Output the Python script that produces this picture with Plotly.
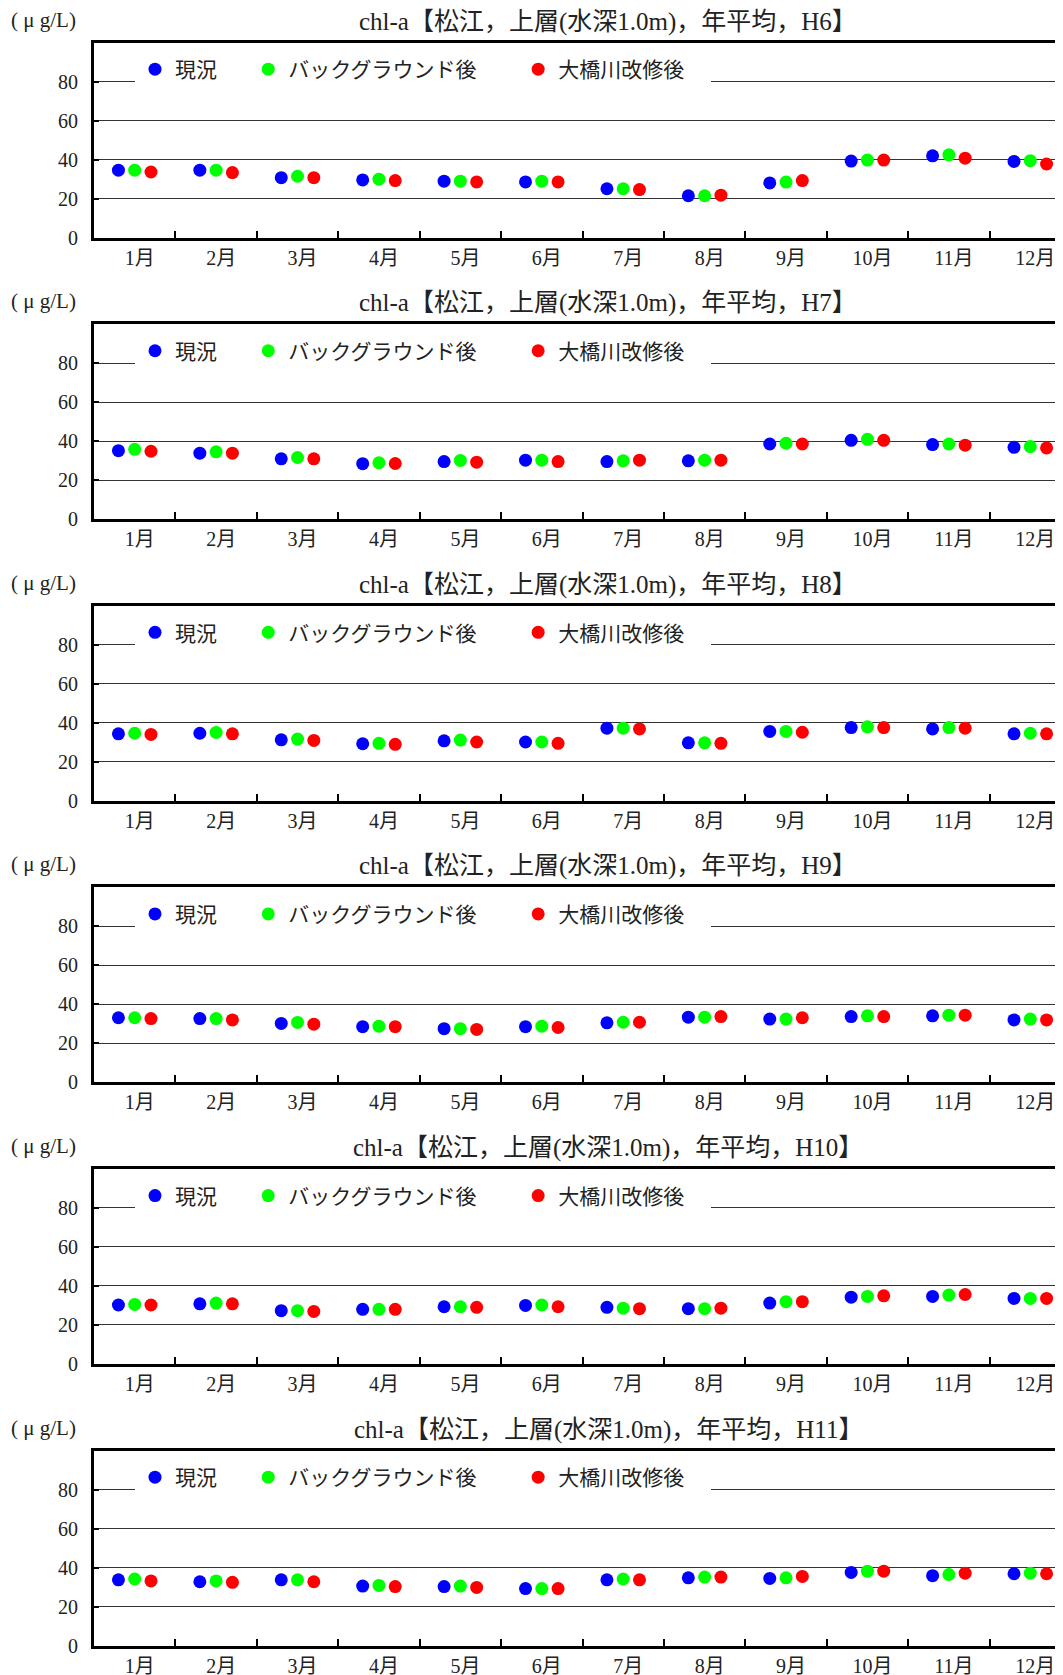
import plotly.graph_objects as go

# ---------------- data ----------------
months = ["1月", "2月", "3月", "4月", "5月", "6月",
          "7月", "8月", "9月", "10月", "11月", "12月"]
series_names = ["現況", "バックグラウンド後", "大橋川改修後"]
series_colors = ["#0000FF", "#00FF00", "#FF0000"]
years = ["H6", "H7", "H8", "H9", "H10", "H11"]
y_ticks = [0, 20, 40, 60, 80]

h6_genkyo = [34.5, 34.5, 30.7, 29.5, 28.9, 28.5, 25.0, 21.4, 28.0, 39.2, 41.9, 39.0]
h6_background = [34.5, 34.5, 31.4, 29.9, 28.9, 28.9, 25.0, 21.4, 28.4, 39.7, 42.4, 39.4]
h6_ohashi = [33.6, 33.3, 30.7, 29.2, 28.5, 28.5, 24.6, 21.7, 29.2, 39.7, 40.7, 37.7]

h7_genkyo = [35.1, 33.8, 30.9, 28.4, 29.5, 30.2, 29.5, 29.9, 38.5, 40.4, 38.2, 36.8]
h7_background = [35.8, 34.5, 31.6, 28.9, 30.1, 30.2, 29.9, 30.2, 38.9, 40.9, 38.5, 37.2]
h7_ohashi = [34.8, 33.8, 30.9, 28.5, 29.2, 29.5, 30.2, 30.2, 38.5, 40.4, 37.9, 36.5]

h8_genkyo = [34.3, 34.6, 31.2, 29.2, 30.7, 30.1, 37.2, 29.7, 35.5, 37.5, 36.8, 34.3]
h8_background = [34.6, 35.0, 31.6, 29.4, 31.1, 30.1, 37.2, 29.7, 35.5, 37.9, 37.5, 34.6]
h8_ohashi = [34.0, 34.3, 30.9, 28.9, 30.1, 29.4, 36.8, 29.4, 35.1, 37.5, 37.2, 34.3]

h9_genkyo = [33.1, 32.7, 30.2, 28.5, 27.5, 28.5, 30.5, 33.4, 32.4, 33.7, 34.1, 32.0]
h9_background = [33.1, 32.7, 30.7, 28.8, 27.5, 28.8, 30.8, 33.4, 32.4, 34.1, 34.4, 32.4]
h9_ohashi = [32.7, 32.0, 29.8, 28.5, 27.1, 28.1, 30.8, 33.7, 33.1, 33.7, 34.4, 32.0]

h10_genkyo = [30.2, 30.8, 27.3, 28.0, 29.3, 30.0, 29.0, 28.3, 31.2, 34.2, 34.6, 33.6]
h10_background = [30.5, 31.2, 27.3, 28.0, 29.3, 30.2, 28.6, 28.3, 31.9, 34.6, 35.3, 33.6]
h10_ohashi = [30.2, 30.8, 26.9, 28.0, 29.0, 29.3, 28.3, 28.6, 31.9, 34.9, 35.6, 33.6]

h11_genkyo = [33.7, 32.7, 33.7, 30.5, 30.2, 29.2, 33.7, 34.7, 34.4, 37.5, 35.8, 36.8]
h11_background = [34.1, 33.1, 33.7, 30.8, 30.5, 29.2, 34.1, 35.1, 34.7, 38.1, 36.4, 37.1]
h11_ohashi = [33.1, 32.4, 32.7, 30.2, 29.8, 29.2, 33.7, 35.1, 35.4, 38.1, 37.1, 36.8]

panels = [
    [h6_genkyo, h6_background, h6_ohashi],
    [h7_genkyo, h7_background, h7_ohashi],
    [h8_genkyo, h8_background, h8_ohashi],
    [h9_genkyo, h9_background, h9_ohashi],
    [h10_genkyo, h10_background, h10_ohashi],
    [h11_genkyo, h11_background, h11_ohashi],
]

# ---------------- layout geometry ----------------
OFF = 8                      # page body margin: page px = figure px + OFF
W, H = 1063, 1675
ML = 94 - OFF                # plot left edge on the page at 94 px
PW = W - ML
FONT = "Liberation Serif, Noto Sans CJK JP, serif"
ZERO0 = 237.5 - OFF          # zero line of the first panel (figure px)
STEP = 281.6
PH = 195
# spacing after each legend label (styling only)
legend_pad = ["\u3000\u00a0", "\u3000\u00a0\u00a0\u00a0", "\u00a0\u00a0\u00a0\u00a0"]


def px_x(page_x):
    return (page_x - OFF - ML) / PW


fig = go.Figure()
layout = dict(
    width=W, height=H,
    margin=dict(l=ML, r=0, t=0, b=0, autoexpand=False),
    paper_bgcolor="white", plot_bgcolor="white",
    font=dict(family=FONT, size=20, color="#222222"),
    scattermode="group", scattergap=0.4,
    annotations=[],
)

for k, (year, values) in enumerate(zip(years, panels)):
    sfx = "" if k == 0 else str(k + 1)
    zero_px = ZERO0 + STEP * k
    top_px = zero_px - PH
    legend_key = "legend" + sfx
    for name, pad, color, vals in zip(series_names, legend_pad, series_colors, values):
        fig.add_trace(go.Scatter(
            x=months, y=vals, name=name + pad, mode="markers",
            marker=dict(color=color, size=13, line=dict(width=0)),
            xaxis="x" + sfx, yaxis="y" + sfx,
            legend=legend_key,
            showlegend=True,
        ))
    layout["xaxis" + sfx] = dict(
        domain=[0, 1], anchor="y" + sfx,
        type="category", categoryorder="array", categoryarray=months,
        range=[-0.5, 11.5],
        tickson="boundaries", ticks="inside", ticklen=7, tickwidth=1.5,
        tickcolor="black",
        showline=True, linewidth=3, linecolor="black", mirror=True,
        showgrid=False, zeroline=False,
        tickfont=dict(size=20, family=FONT, color="#222222"),
        ticklabelstandoff=0, ticklabelshift=5,
    )
    layout["yaxis" + sfx] = dict(
        domain=[1 - zero_px / H, 1 - top_px / H], anchor="x" + sfx,
        range=[0, 100], tickvals=y_ticks, ticktext=[str(v) for v in y_ticks],
        ticks="inside", ticklen=5, tickwidth=1.5, tickcolor="black",
        showline=True, linewidth=3, linecolor="black", mirror=False,
        showgrid=True, gridcolor="#333333", gridwidth=1, zeroline=False,
        tickfont=dict(size=20, family=FONT, color="#222222"),
        ticklabelstandoff=9,
    )
    layout[legend_key] = dict(
        orientation="h",
        x=px_x(135), xanchor="left",
        y=1 - (zero_px - 168) / H, yanchor="middle",
        bgcolor="white", borderwidth=0,
        font=dict(size=21, family=FONT, color="#222222"),
        traceorder="normal",
    )
    layout["annotations"].append(dict(
        text=f"chl-a【松江，上層(水深1.0m)，年平均，{year}】",
        xref="paper", yref="paper",
        x=px_x(608), y=1 - (zero_px - 216) / H,
        xanchor="center", yanchor="middle", showarrow=False,
        font=dict(size=25, family=FONT, color="#222222"),
    ))
    layout["annotations"].append(dict(
        text="( μ g/L)",
        xref="paper", yref="paper",
        x=px_x(9), y=1 - (zero_px - 218) / H,
        xanchor="left", yanchor="middle", showarrow=False,
        font=dict(size=21, family=FONT, color="#222222"),
    ))

fig.update_layout(**layout)
fig.write_html("out.html")
